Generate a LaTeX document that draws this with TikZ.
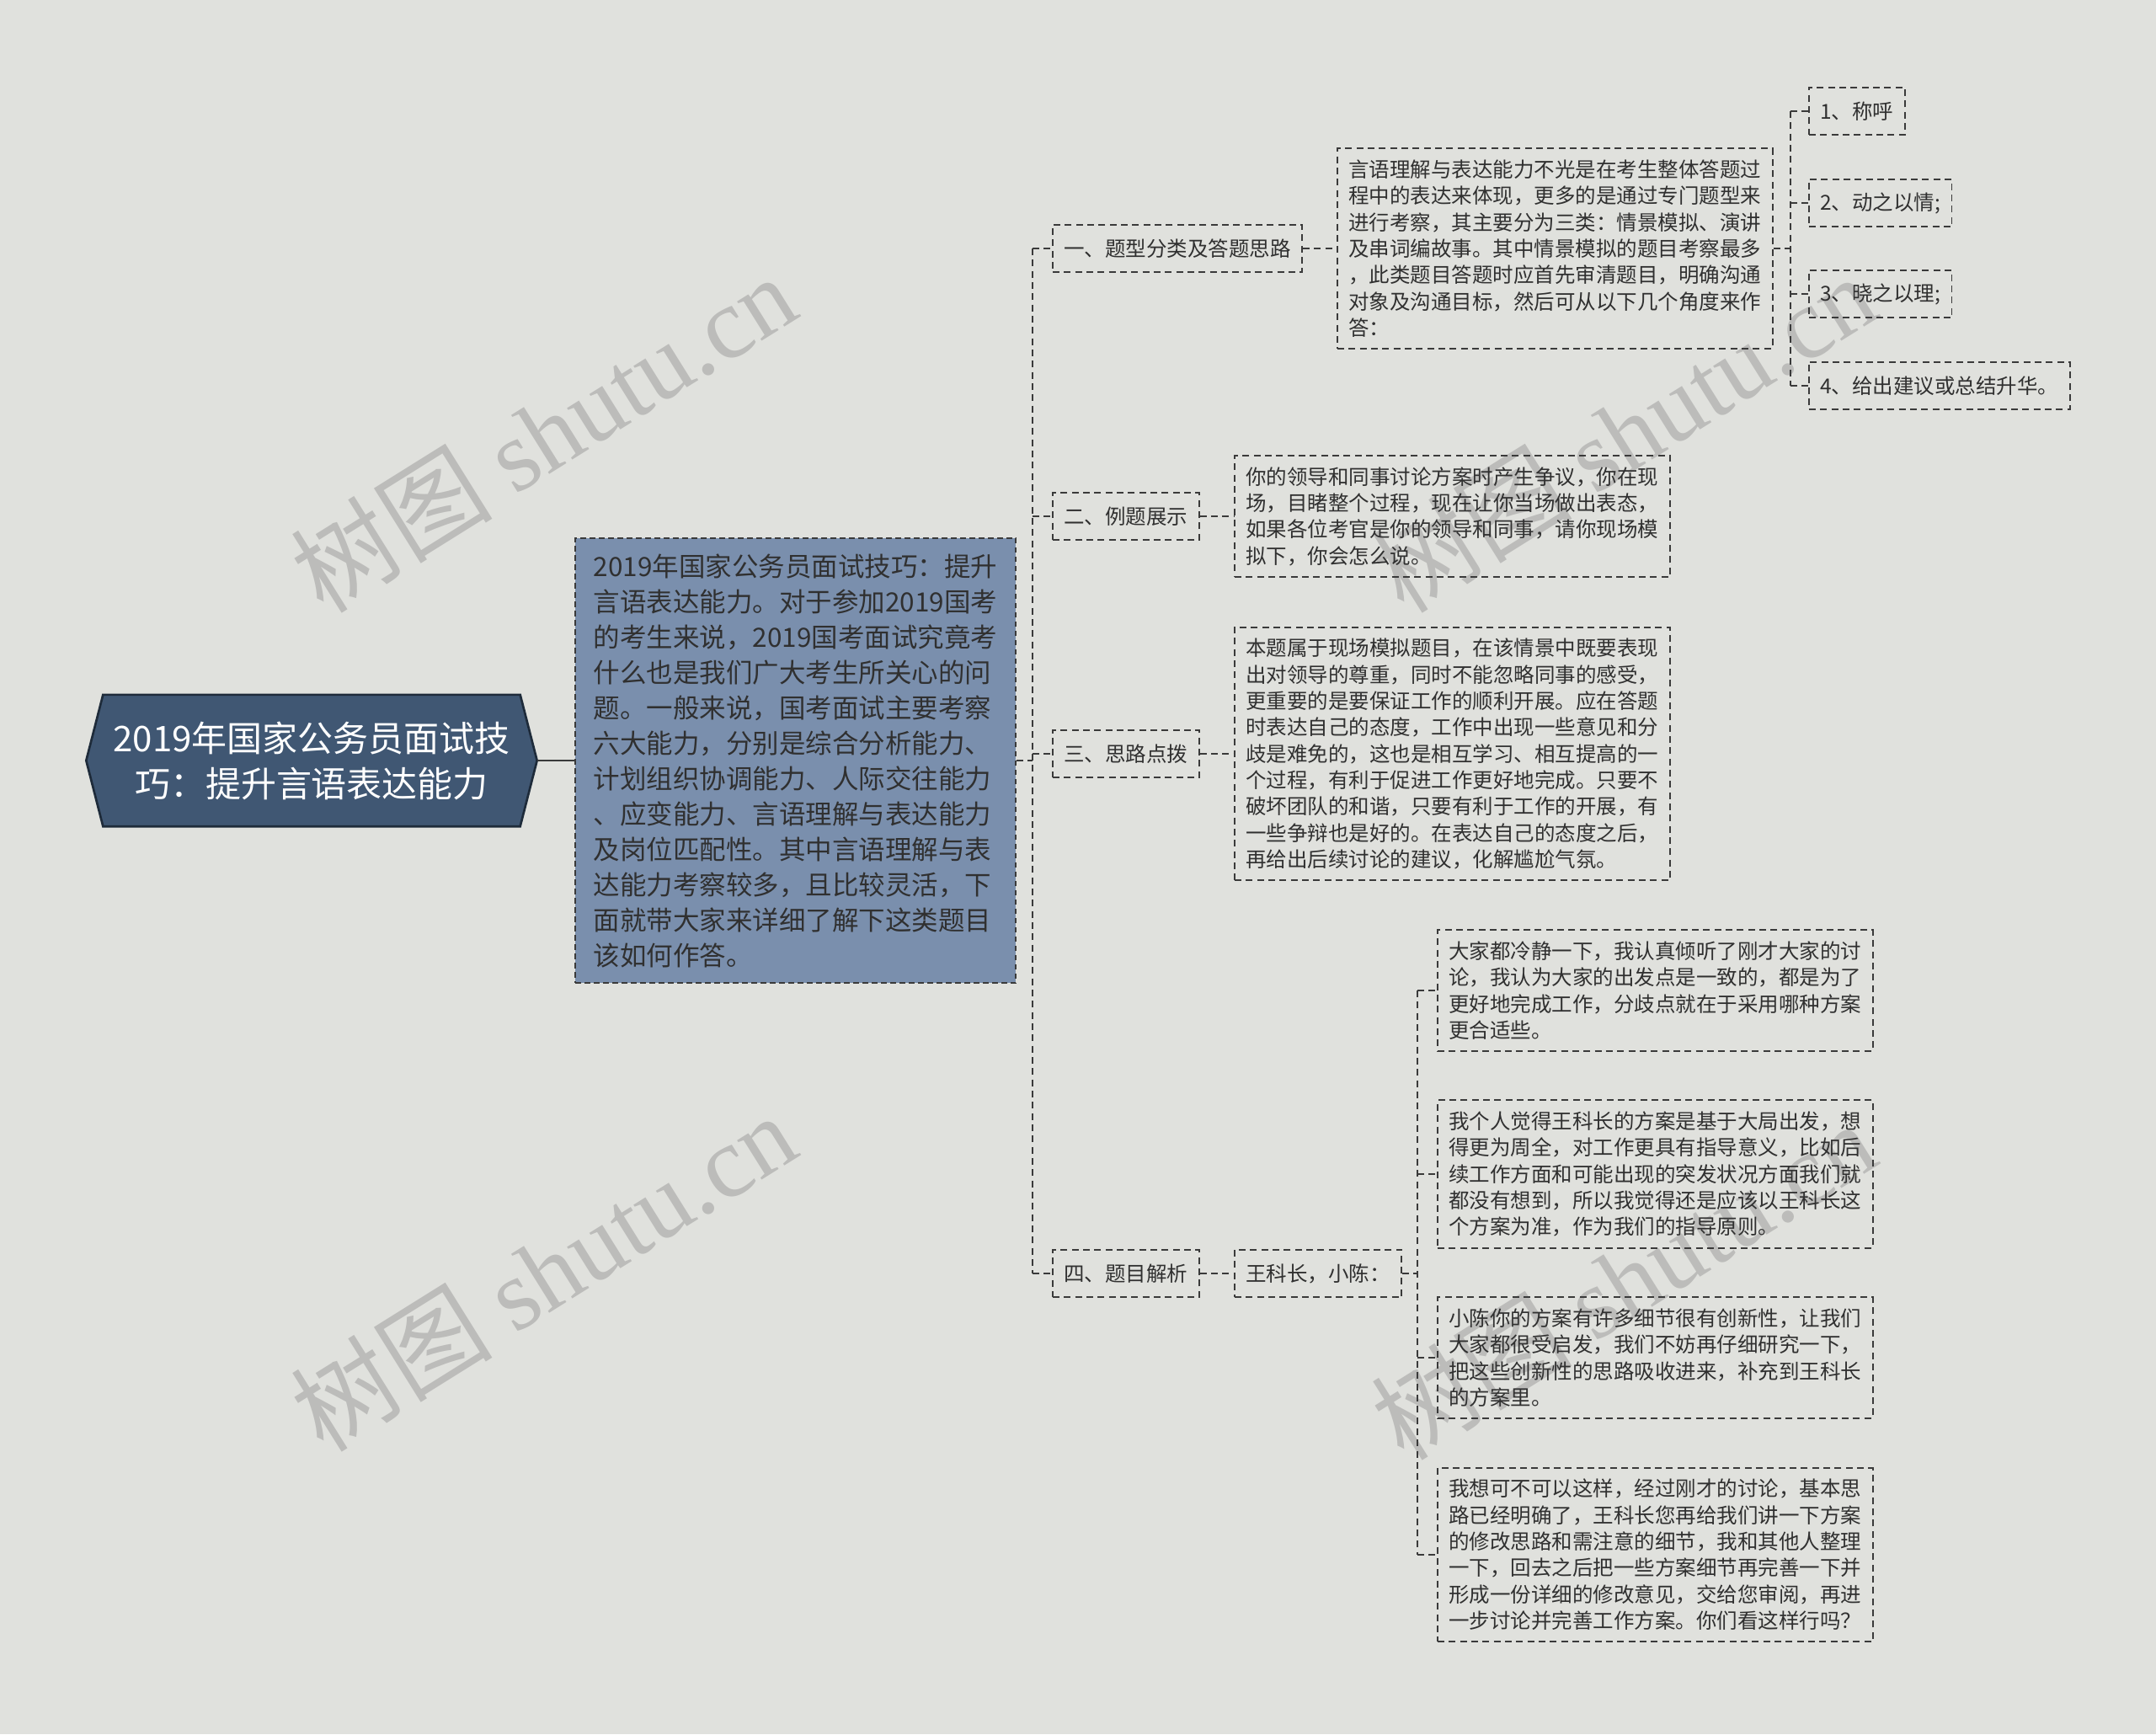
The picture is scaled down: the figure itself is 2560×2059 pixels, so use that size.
\documentclass[tikz,border=0pt]{standalone}
\usepackage{fontspec}
\setmainfont{Noto Sans CJK SC}
\newfontfamily\wmlatin{Liberation Serif}
\usetikzlibrary{calc,backgrounds}

\definecolor{paper}{RGB}{224,225,221}
\definecolor{rootfill}{RGB}{64,87,115}
\definecolor{rootline}{RGB}{30,43,58}
\definecolor{mainfill}{RGB}{122,143,173}
\definecolor{ink}{RGB}{48,48,48}
\definecolor{wire}{RGB}{58,58,58}
\definecolor{wmgray}{RGB}{188,188,186}

\newcommand{\smallcn}{\fontsize{7.35pt}{9.4pt}\selectfont}

\tikzset{
  wmark/.style={text=wmgray, font=\fontsize{36pt}{38pt}\selectfont, rotate=32, inner sep=0pt},
  rootbox/.style={text=white, font=\fontsize{12.6pt}{16.2pt}\selectfont, align=center,
    minimum width=148.2pt, minimum height=46.5pt, inner sep=0pt},
  mainbox/.style={draw=wire, fill=mainfill, dash pattern=on 2pt off 1.3pt, line width=0.5pt,
    anchor=west, align=left, text=ink, font=\fontsize{9.45pt}{12.6pt}\selectfont,
    inner xsep=6.6pt, inner ysep=5.5pt},
  headbox/.style={draw=wire, dash pattern=on 2.4pt off 1.6pt, line width=0.55pt,
    anchor=west, text=ink, font=\smallcn, inner xsep=4pt, inner ysep=0pt, minimum height=17pt},
  leafbox/.style={draw=wire, dash pattern=on 2.4pt off 1.6pt, line width=0.55pt,
    anchor=west, align=left, text=ink, font=\smallcn, inner xsep=4pt, inner ysep=4pt},
  wireline/.style={draw=wire, dash pattern=on 2.4pt off 1.6pt, line width=0.55pt}
}

\begin{document}
\begin{tikzpicture}[x=0.3pt, y=-0.3pt]
  % paper and watermarks
  \begin{scope}[on background layer]
    \fill[paper] (0,0) rectangle (2560,2059);
    \node[wmark] (wm1) at (645,514) {树图 {\wmlatin shutu.cn}};
    \node[wmark] (wm2) at (645,1510) {树图 {\wmlatin shutu.cn}};
    \node[wmark] (wm3) at (1927,514) {树图 {\wmlatin shutu.cn}};
    \node[wmark] (wm4) at (1927,1520) {树图 {\wmlatin shutu.cn}};
  \end{scope}

  % root
  \node[rootbox] (root) at (370,903) {2019年国家公务员面试技\\巧：提升言语表达能力};
  \begin{scope}[on background layer]
    \filldraw[fill=rootfill, draw=rootline, line width=0.8pt]
      (root.north west) -- (root.north east) -- ($(root.east)+(20,0)$)
      -- (root.south east) -- (root.south west) -- ($(root.west)+(-20,0)$) -- cycle;
  \end{scope}
  \coordinate (roottip) at ($(root.east)+(20,0)$);

  % summary box
  \node[mainbox] (main) at (682,903) {2019年国家公务员面试技巧：提升\\
    言语表达能力。对于参加2019国考\\
    的考生来说，2019国考面试究竟考\\
    什么也是我们广大考生所关心的问\\
    题。一般来说，国考面试主要考察\\
    六大能力，分别是综合分析能力、\\
    计划组织协调能力、人际交往能力\\
    、应变能力、言语理解与表达能力\\
    及岗位匹配性。其中言语理解与表\\
    达能力考察较多，且比较灵活，下\\
    面就带大家来详细了解下这类题目\\
    该如何作答。};
  \draw[draw=wire, line width=0.8pt] (roottip) -- (main.west);

  % first level
  \begin{scope}[every node/.style={headbox}]
    \node (one) at (1249,295) {一、题型分类及答题思路};
    \node (two) at (1249,613) {二、例题展示};
    \node (three) at (1249,895) {三、思路点拨};
    \node (four) at (1249,1512) {四、题目解析};
  \end{scope}
  \coordinate (t1) at (1226,0);
  \begin{scope}[every path/.style={wireline}]
    \path (main.east) edge (main.east -| t1);
    \path (one.west -| t1) edge (four.west -| t1);
    \path (one.west -| t1) edge (one.west);
    \path (two.west -| t1) edge (two.west);
    \path (three.west -| t1) edge (three.west);
    \path (four.west -| t1) edge (four.west);
  \end{scope}

  % second level
  \begin{scope}[every node/.style={leafbox}]
    \node (typetext) at (1587,295) {言语理解与表达能力不光是在考生整体答题过\\
      程中的表达来体现，更多的是通过专门题型来\\
      进行考察，其主要分为三类：情景模拟、演讲\\
      及串词编故事。其中情景模拟的题目考察最多\\
      ，此类题目答题时应首先审清题目，明确沟通\\
      对象及沟通目标，然后可从以下几个角度来作\\
      答：};
    \node (sample) at (1465,613) {你的领导和同事讨论方案时产生争议，你在现\\
      场，目睹整个过程，现在让你当场做出表态，\\
      如果各位考官是你的领导和同事，请你现场模\\
      拟下，你会怎么说。};
    \node (hint) at (1465,895) {本题属于现场模拟题目，在该情景中既要表现\\
      出对领导的尊重，同时不能忽略同事的感受，\\
      更重要的是要保证工作的顺利开展。应在答题\\
      时表达自己的态度，工作中出现一些意见和分\\
      歧是难免的，这也是相互学习、相互提高的一\\
      个过程，有利于促进工作更好地完成。只要不\\
      破坏团队的和谐，只要有利于工作的开展，有\\
      一些争辩也是好的。在表达自己的态度之后，\\
      再给出后续讨论的建议，化解尴尬气氛。};
  \end{scope}
  \node[headbox] (address) at (1465,1512) {王科长，小陈：};
  \begin{scope}[every path/.style={wireline}]
    \path (one.east) edge (typetext.west);
    \path (two.east) edge (sample.west);
    \path (three.east) edge (hint.west);
    \path (four.east) edge (address.west);
  \end{scope}

  % answer angles
  \begin{scope}[every node/.style={headbox}]
    \node (angle1) at (2147,132) {1、称呼};
    \node (angle2) at (2147,241) {2、动之以情;};
    \node (angle3) at (2147,349) {3、晓之以理;};
    \node (angle4) at (2147,458) {4、给出建议或总结升华。};
  \end{scope}
  \coordinate (t2) at (2126,0);
  \begin{scope}[every path/.style={wireline}]
    \path (typetext.east) edge (typetext.east -| t2);
    \path (angle1.west -| t2) edge (angle4.west -| t2);
    \path (angle1.west -| t2) edge (angle1.west);
    \path (angle2.west -| t2) edge (angle2.west);
    \path (angle3.west -| t2) edge (angle3.west);
    \path (angle4.west -| t2) edge (angle4.west);
  \end{scope}

  % sample answers
  \begin{scope}[every node/.style={leafbox}]
    \node (reply1) at (1706,1176) {大家都冷静一下，我认真倾听了刚才大家的讨\\
      论，我认为大家的出发点是一致的，都是为了\\
      更好地完成工作，分歧点就在于采用哪种方案\\
      更合适些。};
    \node (reply2) at (1706,1394) {我个人觉得王科长的方案是基于大局出发，想\\
      得更为周全，对工作更具有指导意义，比如后\\
      续工作方面和可能出现的突发状况方面我们就\\
      都没有想到，所以我觉得还是应该以王科长这\\
      个方案为准，作为我们的指导原则。};
    \node (reply3) at (1706,1612) {小陈你的方案有许多细节很有创新性，让我们\\
      大家都很受启发，我们不妨再仔细研究一下，\\
      把这些创新性的思路吸收进来，补充到王科长\\
      的方案里。};
    \node (reply4) at (1706,1846) {我想可不可以这样，经过刚才的讨论，基本思\\
      路已经明确了，王科长您再给我们讲一下方案\\
      的修改思路和需注意的细节，我和其他人整理\\
      一下，回去之后把一些方案细节再完善一下并\\
      形成一份详细的修改意见，交给您审阅，再进\\
      一步讨论并完善工作方案。你们看这样行吗？};
  \end{scope}
  \coordinate (t3) at (1683,0);
  \begin{scope}[every path/.style={wireline}]
    \path (address.east) edge (address.east -| t3);
    \path (reply1.west -| t3) edge (reply4.west -| t3);
    \path (reply1.west -| t3) edge (reply1.west);
    \path (reply2.west -| t3) edge (reply2.west);
    \path (reply3.west -| t3) edge (reply3.west);
    \path (reply4.west -| t3) edge (reply4.west);
  \end{scope}
\end{tikzpicture}
\end{document}
